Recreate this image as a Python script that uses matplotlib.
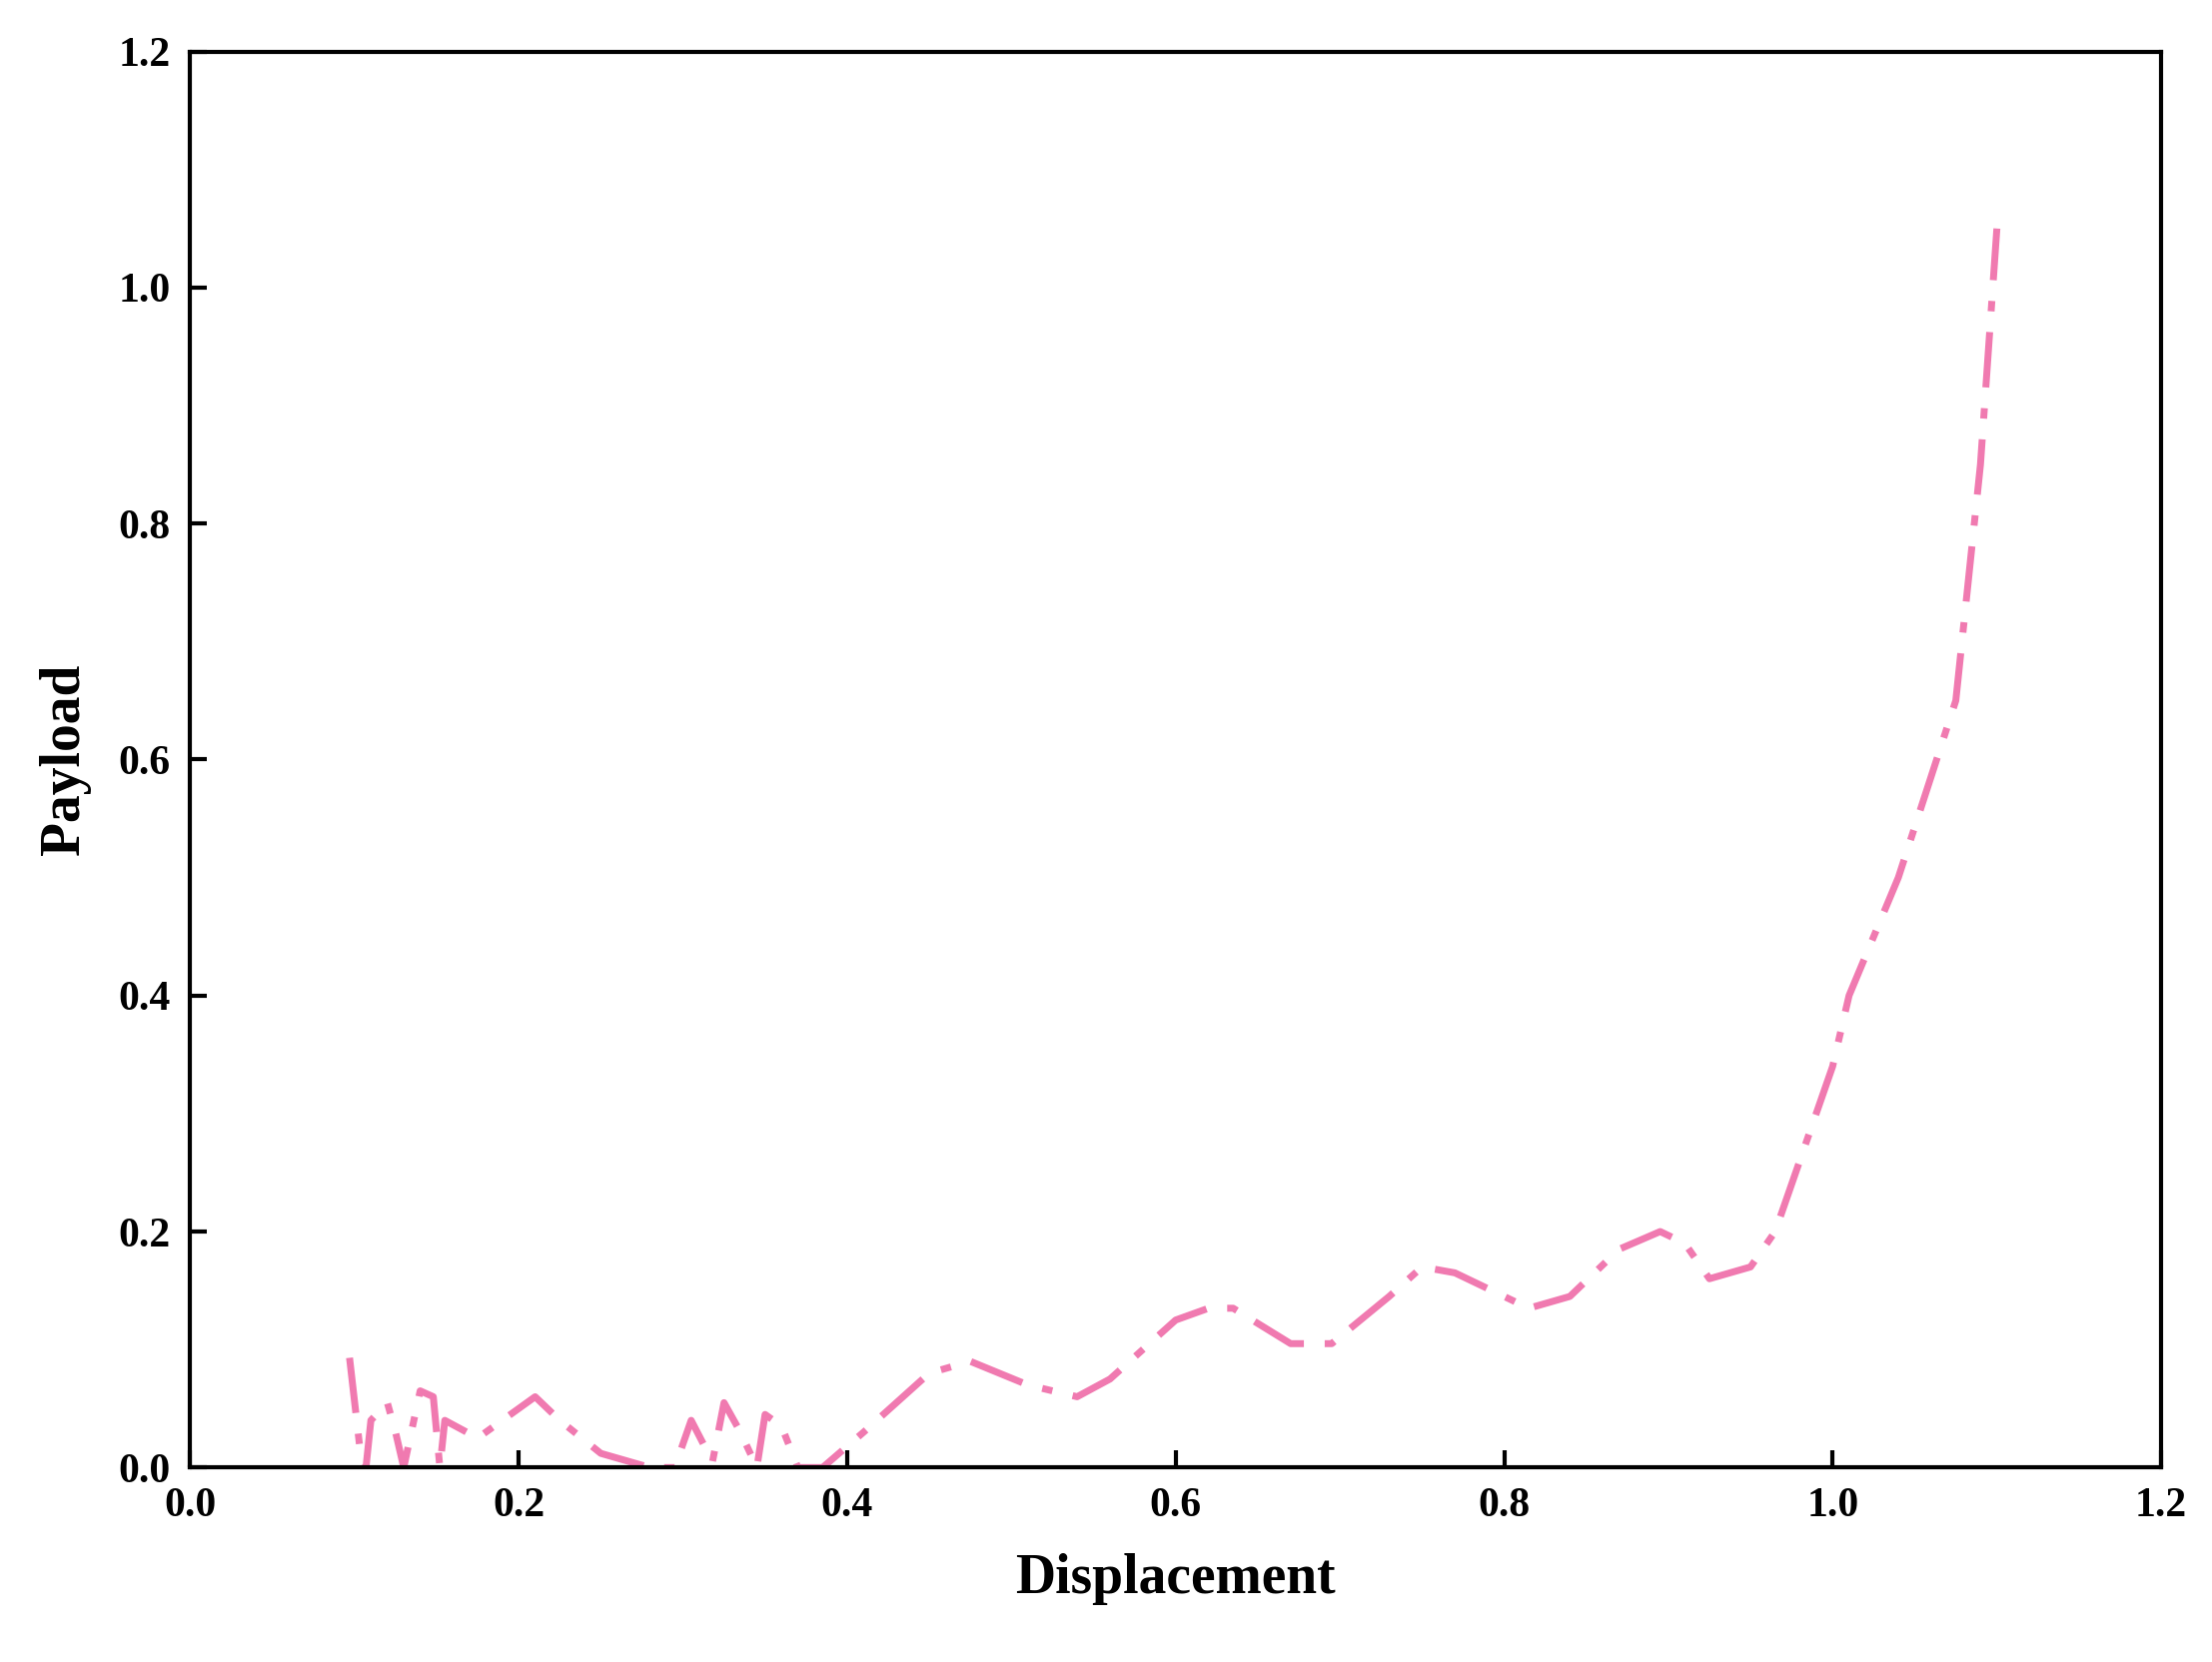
import matplotlib
matplotlib.use("Agg")
import matplotlib.pyplot as plt

x = [0.097,0.103,0.107,0.11,0.12,0.125,0.13,0.14,0.148,0.152,0.155,0.175,0.21,0.225,0.25,0.28,0.295,0.305,0.318,0.325,0.335,0.345,0.35,0.36,0.37,0.385,0.41,0.45,0.475,0.51,0.54,0.56,0.6,0.62,0.635,0.67,0.695,0.73,0.75,0.77,0.815,0.84,0.87,0.895,0.91,0.925,0.95,0.965,1.0,1.01,1.04,1.075,1.09,1.1]
y = [0.093,0.02,0.0,0.04,0.055,0.03,0.0,0.065,0.06,0.0,0.04,0.025,0.06,0.04,0.012,0.0,0.0,0.04,0.005,0.055,0.03,0.0,0.045,0.035,0.0,0.0,0.03,0.08,0.09,0.07,0.06,0.075,0.125,0.135,0.135,0.105,0.105,0.145,0.17,0.165,0.135,0.145,0.185,0.2,0.19,0.16,0.17,0.2,0.34,0.4,0.5,0.65,0.85,1.05]

plt.rcParams['font.family'] = ['Liberation Serif', 'DejaVu Serif']
plt.rcParams['font.weight'] = 'bold'
fig = plt.figure(figsize=(22.14, 16.64), dpi=100)
ax = fig.add_axes([0.086, 0.117, 0.891, 0.852])
ax.plot(x, y, color='#f07ab0', lw=5, linestyle=(0, (8, 3, 1.5, 3)))
ax.set_xlim(0, 1.2)
ax.set_ylim(0, 1.2)
ticks = [0.0, 0.2, 0.4, 0.6, 0.8, 1.0, 1.2]
ax.set_xticks(ticks)
ax.set_yticks(ticks)
ax.set_xticklabels([f"{t:.1f}" for t in ticks])
ax.set_yticklabels([f"{t:.1f}" for t in ticks])
ax.tick_params(direction='in', length=12, width=3, labelsize=30, pad=14)
for s in ax.spines.values():
    s.set_linewidth(3)
ax.set_xlabel('Displacement', fontsize=40, fontweight='bold', labelpad=20)
ax.set_ylabel('Payload', fontsize=40, fontweight='bold', labelpad=20)
fig.savefig('out.png')
